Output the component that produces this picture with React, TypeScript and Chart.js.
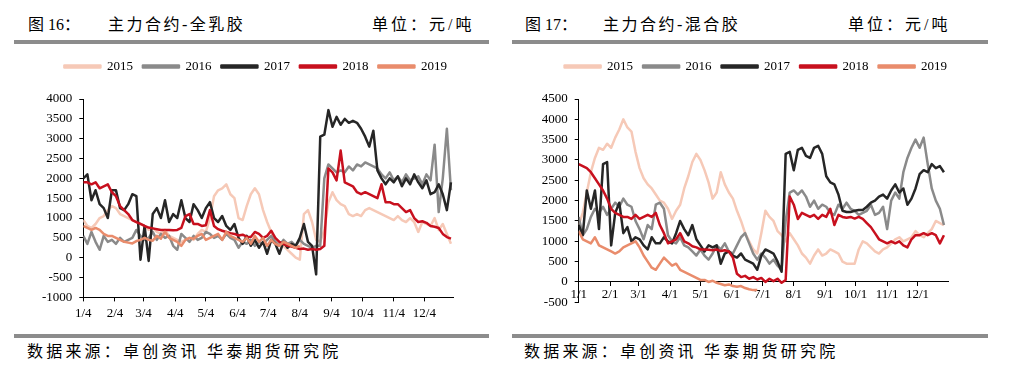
import React, { useEffect, useRef } from 'react';
import { Chart, registerables } from 'chart.js';

Chart.register(...registerables);

// ---- categories (trading-day offsets from the first tick, every 4 days) ----
const days = Array.from({ length: 91 }, (_, i) => i * 4);
const monthTickDays = [0, 31, 59, 90, 120, 151, 181, 212, 243, 273, 304, 334];
const rssTickLabels = ['1/4', '2/4', '3/4', '4/4', '5/4', '6/4', '7/4', '8/4', '9/4', '10/4', '11/4', '12/4'];
const mixTickLabels = ['1/1', '2/1', '3/1', '4/1', '5/1', '6/1', '7/1', '8/1', '9/1', '10/1', '11/1', '12/1'];
const years = ['2015', '2016', '2017', '2018', '2019'];
const yearColors = ['#f6c9b7', '#8a8a8a', '#262626', '#c8101e', '#e98c6c'];

// ---- 图16 主力合约-全乳胶 ----
const rss2015 = [950, 800, 750, 850, 1000, 1050, 1200, 1300, 1250, 1100, 1050, 1000, 950, 900, 850, 800, 700, 750, 650, 600, 700, 550, 500, 450, 400, 450, 500, 450, 600, 700, 650, 1000, 1550, 1700, 1750, 1850, 1600, 1500, 1000, 950, 1300, 1600, 1750, 1600, 1200, 900, 650, 450, 350, 300, 200, 100, 0, -50, 1100, 1200, 900, 450, 400, 700, 1400, 1650, 1450, 1350, 1300, 1100, 1050, 1100, 1050, 1200, 1250, 1200, 1150, 1100, 1050, 1000, 950, 1050, 950, 900, 1000, 900, 650, 900, 850, 800, 1000, 700, 850, 600, 350];
const rss2016 = [550, 350, 650, 400, 200, 550, 400, 450, 350, 500, 400, 450, 500, 700, 550, 450, 500, 650, 450, 600, 500, 550, 300, 200, 600, 500, 400, 550, 450, 500, 650, 600, 500, 550, 450, 600, 500, 450, 250, 400, 350, 450, 300, 400, 350, 450, 550, 400, 300, 450, 350, 400, 300, 450, 350, 300, 250, 300, 300, 2000, 2350, 2250, 2150, 2200, 2150, 2300, 2200, 2350, 2300, 2400, 2350, 2300, 2250, 2100, 2000, 2150, 1950, 2050, 1900, 2100, 1950, 2000, 2050, 1850, 2100, 1950, 2850, 1150, 2000, 3250, 1700];
const rss2017 = [2000, 2100, 1450, 1700, 1350, 1250, 1000, 1700, 1700, 1250, 1200, 1350, 1600, 1550, -50, 800, -80, 1100, 1250, 1000, 1450, 900, 1100, 1000, 1450, 1000, 900, 1350, 1200, 1000, 1250, 1400, 1000, 900, 1050, 800, 700, 850, 500, 350, 550, 300, 450, 250, 400, 100, 450, 350, 100, 400, 250, 350, 300, 500, 850, 400, 300, -420, 3050, 3100, 3720, 3300, 3550, 3350, 3500, 3400, 3450, 3400, 3250, 3050, 2800, 3200, 2200, 2000, 1850, 2000, 1900, 2050, 1800, 2000, 1850, 2100, 1900, 1750, 1950, 1600, 1650, 1850, 1600, 1200, 1900];
const rss2018 = [1900, 1900, 1850, 1900, 1750, 1800, 1850, 1650, 1550, 1300, 1200, 1100, 950, 900, 850, 800, 760, 740, 720, 700, 700, 700, 690, 700, 750, 1050, 1100, 850, 850, 800, 820, 1200, 800, 720, 680, 650, 620, 600, 560, 580, 530, 520, 650, 600, 500, 550, 680, 500, 400, 350, 300, 280, 250, 220, 230, 200, 220, 200, 220, 300, 2250, 2150, 1950, 2700, 1900, 1850, 1800, 1650, 1600, 1650, 1600, 1550, 1500, 1850, 1400, 1400, 1350, 1350, 1250, 1150, 1200, 1000, 900, 920, 880, 800, 780, 750, 600, 520, 480];
const rss2019 = [800, 750, 700, 750, 700, 600, 550, 550, 500, 450, 400, 380, 360, 420, 450, 500, 450, 430, 550, 480, 650, 500, 450, 400, 300, 450, 500, 480, 550, 600, 450, 500, 550, 600, 450, 650, 550, 500, 450, 400, 500, 350, 550, 400, 500, 300, 450, 350, 300, 400, 350, 300, 250, 300];

// ---- 图17 主力合约-混合胶 ----
const mix2015 = [1400, 1700, 2200, 2700, 3050, 3300, 3250, 3400, 3300, 3550, 3750, 4000, 3800, 3700, 3200, 2800, 2550, 2400, 2300, 2150, 2000, 1950, 1800, 1550, 1750, 1900, 2300, 2600, 2950, 3150, 3000, 2750, 2450, 2050, 2200, 2700, 2400, 2200, 2050, 1750, 1500, 1200, 1000, 800, 700, 1200, 1750, 1600, 1500, 1250, 1150, 1000, 1200, 1050, 900, 700, 600, 450, 650, 800, 650, 700, 800, 750, 700, 500, 450, 450, 450, 800, 1000, 950, 850, 750, 700, 800, 850, 950, 1050, 1100, 1000, 1050, 1100, 1250, 1150, 1100, 1200, 1300, 1500, 1450, 1400];
const mix2016 = [1600, 1150, 1300, 1600, 1800, 1700, 1850, 1650, 1800, 1950, 1850, 2050, 1900, 1850, 1500, 1300, 1050, 1400, 1300, 1900, 1950, 1800, 1150, 1000, 950, 1100, 900, 850, 750, 650, 800, 650, 550, 700, 900, 800, 950, 750, 700, 900, 1100, 1200, 950, 700, 550, 700, 600, 450, 550, 400, 300, 1500, 2200, 2250, 2150, 2250, 2100, 1850, 2000, 1800, 1900, 1850, 1700, 1650, 1900, 1800, 1950, 1800, 1750, 1650, 1700, 1750, 1900, 1650, 1700, 1850, 1300, 2000, 2200, 2050, 2700, 3050, 3300, 3500, 3300, 3550, 2900, 2300, 2000, 1800, 1400];
const mix2017 = [1400, 1150, 2250, 1800, 2250, 1300, 2900, 2950, 900, 1700, 1950, 1200, 1350, 1000, 1100, 1050, 900, 800, 1100, 950, 950, 1100, 1000, 950, 1200, 1500, 1300, 1150, 1400, 1050, 900, 750, 900, 850, 900, 450, 700, 750, 650, 600, 700, 550, 500, 450, 300, 650, 800, 750, 700, 500, 250, 3150, 3200, 2750, 3250, 3300, 3100, 3050, 3300, 3350, 3150, 2600, 2450, 2400, 2150, 1750, 1720, 1720, 1750, 1770, 1770, 1850, 1950, 2000, 2100, 2150, 2050, 2250, 2400, 2200, 2300, 1900, 2050, 2300, 2650, 2750, 2700, 2900, 2800, 2850, 2700];
const mix2018 = [2900, 2850, 2800, 2700, 2550, 2400, 2250, 2050, 1800, 1700, 1650, 1600, 1600, 1550, 1650, 1550, 1600, 1650, 1600, 1700, 1400, 1200, 950, 1000, 1050, 1200, 1000, 950, 880, 850, 800, 800, 790, 780, 800, 760, 780, 750, 600, 200, 120, 150, 80, 120, 60, 100, 0, 80, 20, 80, -20, 50, 2100, 1900, 1550, 1700, 1650, 1600, 1650, 1550, 1650, 1600, 1800, 1400, 1650, 1600, 1580, 1600, 1560, 1600, 1550, 1450, 1350, 1200, 1050, 1000, 950, 1000, 950, 1000, 900, 850, 1050, 1150, 1150, 1200, 1150, 1200, 1150, 950, 1150];
const mix2019 = [1250, 1050, 1000, 950, 1100, 900, 850, 800, 750, 700, 750, 850, 900, 950, 1000, 850, 650, 500, 350, 300, 450, 600, 500, 400, 450, 300, 250, 200, 150, 100, 50, 50, 0, 30, -20, -50, -80, -60, -100, -120, -100, -150, -180, -200, -200];

const FONT_LATIN = '"Liberation Serif", "Times New Roman", serif';
const FONT_MIXED = '"Liberation Serif", "Noto Sans CJK SC", serif';

// legend: extra gap below it, and a horizontal nudge of its row
function legendTweaks(extra: number, shift: number) {
  return {
    id: 'legendTweaks',
    beforeInit(chart: any) {
      const legend = chart.legend;
      if (!legend) return;
      const orig = legend.fit;
      legend.fit = function () {
        orig.call(this);
        this.height += extra;
      };
    },
    afterLayout(chart: any) {
      const legend = chart.legend;
      if (!legend) return;
      legend.left += shift;
      legend.right += shift;
    },
  };
}

interface PanelSpec {
  series: number[][];
  tickLabels: string[];
  yMin: number;
  yMax: number;
  xMax: number;
  xAtZero: boolean;
  yAxisWidth: number;
  xTickPadding: number;
  legendShift: number;
  padding: { left: number; right: number; top: number; bottom: number };
}

function buildConfig(spec: PanelSpec): any {
  const tickFont = { family: FONT_LATIN, size: 13 };
  return {
    type: 'line',
    data: {
      datasets: spec.series.map((arr, k) => ({
        label: years[k],
        data: arr.map((v, i) => ({ x: days[i], y: v })),
        borderColor: yearColors[k],
        backgroundColor: yearColors[k],
        borderWidth: 2.5,
        pointRadius: 0,
        pointHoverRadius: 0,
        tension: 0,
        borderJoinStyle: 'round',
        fill: false,
        order: 5 - k,
      })),
    },
    options: {
      animation: false,
      responsive: false,
      maintainAspectRatio: false,
      events: [],
      layout: { padding: spec.padding },
      plugins: {
        legend: {
          display: true,
          position: 'top',
          labels: {
            boxWidth: 36,
            boxHeight: 2,
            padding: 10,
            color: '#000',
            font: { family: FONT_LATIN, size: 13 },
            sort: (a: any, b: any) => a.datasetIndex - b.datasetIndex,
          },
        },
        tooltip: { enabled: false },
      },
      scales: {
        x: {
          type: 'linear',
          min: 0,
          max: spec.xMax,
          position: spec.xAtZero ? { y: 0 } : 'bottom',
          afterBuildTicks: (axis: any) => {
            axis.ticks = monthTickDays.map((v) => ({ value: v }));
          },
          ticks: {
            autoSkip: false,
            maxRotation: 0,
            minRotation: 0,
            padding: spec.xTickPadding,
            color: '#000',
            font: tickFont,
            callback: (_v: any, i: number) => spec.tickLabels[i],
          },
          grid: { display: true, drawOnChartArea: false, drawTicks: true, tickLength: 4, color: '#000', lineWidth: 1 },
          border: { display: true, color: '#000', width: 1 },
        },
        y: {
          type: 'linear',
          min: spec.yMin,
          max: spec.yMax,
          afterFit: (scale: any) => {
            scale.width = spec.yAxisWidth;
          },
          ticks: {
            stepSize: 500,
            autoSkip: false,
            padding: 7,
            color: '#000',
            font: tickFont,
            callback: (v: any) => String(v),
          },
          grid: { display: true, drawOnChartArea: false, drawTicks: true, tickLength: 4, color: '#000', lineWidth: 1 },
          border: { display: true, color: '#000', width: 1 },
        },
      },
    },
    plugins: [legendTweaks(16, spec.legendShift)],
  };
}

function ChartCanvas(props: { spec: PanelSpec; left: number; top: number; width: number; height: number }) {
  const ref = useRef<HTMLCanvasElement | null>(null);
  useEffect(() => {
    if (!ref.current) return;
    const chart = new Chart(ref.current, buildConfig(props.spec));
    return () => chart.destroy();
  }, []);
  return (
    <canvas
      ref={ref}
      width={props.width}
      height={props.height}
      style={{ position: 'absolute', left: props.left, top: props.top, width: props.width, height: props.height }}
    />
  );
}

const rssSpec: PanelSpec = {
  series: [rss2015, rss2016, rss2017, rss2018, rss2019],
  tickLabels: rssTickLabels,
  yMin: -1000,
  yMax: 4000,
  xMax: 362,
  xAtZero: false,
  yAxisWidth: 45,
  xTickPadding: 4,
  legendShift: 10,
  padding: { left: 38.3, right: 55, top: 5, bottom: 5 },
};

const mixSpec: PanelSpec = {
  series: [mix2015, mix2016, mix2017, mix2018, mix2019],
  tickLabels: mixTickLabels,
  yMin: -500,
  yMax: 4500,
  xMax: 364,
  xAtZero: true,
  yAxisWidth: 45,
  xTickPadding: 1,
  legendShift: 15,
  padding: { left: 25.7, right: 68, top: 5, bottom: 27.7 },
};

const textBase: React.CSSProperties = {
  position: 'absolute',
  fontFamily: FONT_MIXED,
  fontSize: 16,
  lineHeight: '18px',
  color: '#000',
  whiteSpace: 'nowrap',
};

function Bar(props: { left: number; top: number; width: number }) {
  return (
    <div
      style={{ position: 'absolute', left: props.left, top: props.top, width: props.width, height: 4, background: '#8c8c8c' }}
    />
  );
}

export default function App() {
  return (
    <div style={{ position: 'absolute', left: 0, top: 0, width: 1016, height: 384, background: '#fff', overflow: 'hidden' }}>
      <ChartCanvas spec={rssSpec} left={0} top={45} width={508} height={285} />
      <ChartCanvas spec={mixSpec} left={508} top={45} width={508} height={285} />

      <div style={{ ...textBase, left: 28, top: 16 }}>图 16：</div>
      <div style={{ ...textBase, left: 108, top: 16, letterSpacing: 2.5 }}>主力合约-全乳胶</div>
      <div style={{ ...textBase, left: 372, top: 16, letterSpacing: 3 }}>单位：元/吨</div>
      <Bar left={14} top={40} width={475} />
      <Bar left={14} top={334} width={475} />
      <div style={{ ...textBase, left: 27, top: 343, letterSpacing: 3.2 }}>数据来源：卓创资讯 华泰期货研究院</div>

      <div style={{ ...textBase, left: 525, top: 16 }}>图 17：</div>
      <div style={{ ...textBase, left: 603, top: 16, letterSpacing: 2.5 }}>主力合约-混合胶</div>
      <div style={{ ...textBase, left: 848, top: 16, letterSpacing: 3 }}>单位：元/吨</div>
      <Bar left={512} top={40} width={476} />
      <Bar left={512} top={334} width={476} />
      <div style={{ ...textBase, left: 524, top: 343, letterSpacing: 3.2 }}>数据来源：卓创资讯 华泰期货研究院</div>
    </div>
  );
}
